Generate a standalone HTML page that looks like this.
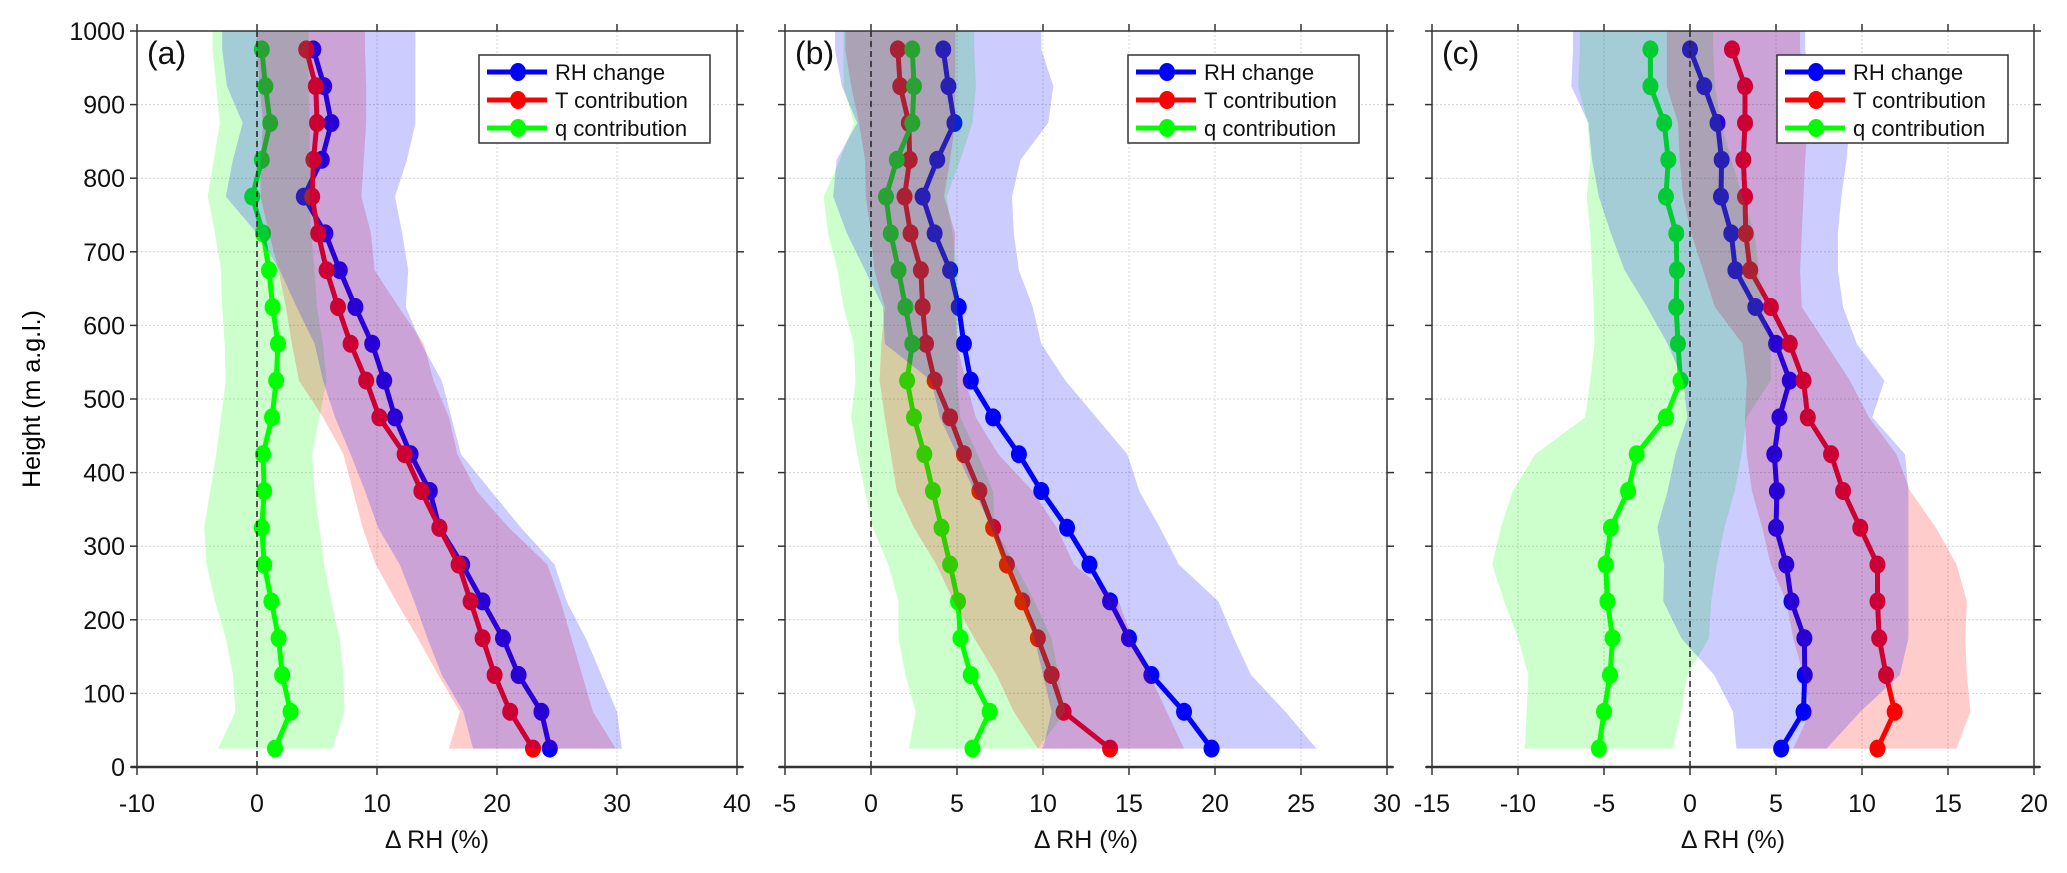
<!DOCTYPE html>
<html><head><meta charset="utf-8"><style>
html,body{margin:0;padding:0;background:#fff;}
svg{display:block;font-family:"Liberation Sans",sans-serif;}
</style></head><body>
<svg id="fig" width="2067" height="873" viewBox="0 0 2067 873" xmlns="http://www.w3.org/2000/svg">
<text x="0" y="0" transform="translate(40,399) rotate(-90)" text-anchor="middle" font-size="25">Height (m a.g.l.)</text>
</svg>
<script>
const heights = [25,75,125,175,225,275,325,375,425,475,525,575,625,675,725,775,825,875,925,975];
const yTicks = [0,100,200,300,400,500,600,700,800,900,1000];
const seriesNames = ["RH change","T contribution","q contribution"];
// Panel (a)
const blueA = [24.4,23.7,21.8,20.5,18.8,17.1,15.2,14.4,12.8,11.5,10.6,9.6,8.2,6.9,5.7,3.9,5.4,6.2,5.6,4.7];
const redA = [23.0,21.1,19.8,18.8,17.8,16.8,15.2,13.7,12.3,10.2,9.1,7.8,6.75,5.8,5.1,4.6,4.7,5.0,4.9,4.1];
const greenA = [1.5,2.8,2.1,1.8,1.2,0.6,0.4,0.6,0.5,1.25,1.6,1.75,1.3,1.0,0.5,-0.4,0.4,1.1,0.7,0.4];
const gLoA = [-3.25,-1.8,-2.0,-2.6,-3.5,-4.2,-4.4,-3.9,-3.4,-3.0,-2.6,-2.7,-2.9,-3.0,-3.5,-4.1,-3.6,-3.1,-3.4,-3.7];
const gHiA = [6.3,7.3,7.2,6.9,6.2,5.6,5.2,4.8,4.6,5.2,5.8,5.5,5.0,4.8,4.5,4.4,4.4,4.4,4.3,4.3];
const rLoA = [16,16.9,15.1,13.4,11.6,9.9,8.8,8.0,7.2,5.5,3.5,2.9,2.4,1.8,1.0,0.3,0.3,0.5,0.2,0];
const rHiA = [29.9,28,27.1,26.2,25.3,24.2,21,18.3,16.7,16,14.7,13.9,11.8,9.8,9.5,8.7,8.9,9.1,9.1,9.0];
const bLoA = [18,17.2,15.4,14.2,13.1,11.9,10.1,9.0,7.8,6.5,5.5,4.8,3.3,1.9,0,-2.6,-2.0,-1.2,-2.5,-2.9];
const bHiA = [30.4,30,28.7,27.4,25.8,24.8,22,19.5,17.0,16.2,15.4,13.7,12.4,12.6,12.1,11.5,12.5,13.2,13.2,13.2];
const xTicksA = [-10,0,10,20,30,40];
// Panel (b)
const blueB = [19.8,18.2,16.3,15.0,13.9,12.7,11.4,9.9,8.6,7.1,5.8,5.4,5.1,4.6,3.7,3.0,3.85,4.85,4.5,4.2];
const redB = [13.9,11.2,10.5,9.7,8.8,7.9,7.1,6.3,5.4,4.6,3.7,3.2,3.0,2.9,2.3,1.95,2.25,2.2,1.7,1.56];
const greenB = [5.9,6.9,5.8,5.2,5.06,4.6,4.1,3.6,3.1,2.5,2.1,2.4,2.0,1.6,1.15,0.87,1.5,2.4,2.5,2.4];
const gLoB = [2.2,2.6,2.0,1.6,1.6,1.0,0.1,-0.35,-0.8,-1.15,-0.9,-1.0,-1.6,-1.95,-2.5,-2.75,-1.8,-1.0,-1.6,-1.6];
const gHiB = [9.7,11.3,10.9,10.5,9.5,8.4,7.2,7.1,6.2,5.2,5.0,5.0,5.0,5.0,4.75,4.4,5.2,5.9,6.1,6.0];
const rLoB = [9.7,8.3,7.3,6.0,4.8,3.8,2.5,1.5,1.15,0.8,0.5,0.6,0.8,0.2,0,-0.3,-0.35,-0.7,-1.15,-1.5];
const rHiB = [18.2,17.2,16.2,15.2,14.4,11.8,10.8,9.4,7.4,6.1,5.5,5.0,4.9,4.8,4.9,4.25,4.6,4.9,4.9,4.9];
const bLoB = [10,10.5,10,9.5,9,8,7,6,5,4,3.5,0.8,0.7,-0.35,-1.4,-2.2,-2.0,-0.8,-1.7,-2.1];
const bHiB = [25.9,24.1,22.1,21.1,20.2,17.9,16.8,15.6,14.9,13.1,11.3,9.9,9.4,8.6,8.3,8.2,8.7,10.3,10.6,9.9];
const xTicksB = [-5,0,5,10,15,20,25,30];
// Panel (c)
const blueC = [5.3,6.6,6.67,6.65,5.9,5.6,5.0,5.05,4.9,5.2,5.8,5.0,3.8,2.64,2.4,1.8,1.84,1.6,0.83,0];
const redC = [10.9,11.9,11.4,11.0,10.9,10.9,9.9,8.9,8.2,6.85,6.6,5.8,4.7,3.5,3.24,3.2,3.1,3.2,3.2,2.44];
const greenC = [-5.3,-5.0,-4.65,-4.5,-4.8,-4.9,-4.6,-3.6,-3.1,-1.4,-0.55,-0.7,-0.8,-0.76,-0.8,-1.4,-1.26,-1.5,-2.3,-2.3];
const gLoC = [-9.6,-9.5,-9.4,-10.0,-10.8,-11.5,-11.0,-10.3,-9.0,-6.1,-5.8,-5.55,-5.6,-5.7,-5.8,-6.0,-5.8,-5.95,-6.5,-6.4];
const gHiC = [-1.0,-0.5,-0.15,1.1,1.24,1.56,2.0,2.6,3.0,3.3,4.7,4.7,4.2,4.0,3.75,3.05,2.4,1.8,1.45,1.35];
const rLoC = [6.0,7.0,6.6,6.0,5.6,4.7,4.2,3.6,3.3,3.2,3.3,3.05,1.45,0.76,0.07,-0.4,-0.6,-0.7,-1.35,-1.35];
const rHiC = [15.5,16.3,16.1,16.0,16.1,15.5,14.3,12.8,12.0,10.4,9.3,7.9,6.5,6.4,6.5,6.6,6.7,6.85,6.7,6.4];
const bLoC = [2.7,2.5,1.4,-0.5,-1.55,-1.5,-1.9,-1.3,-0.85,-0.15,-0.4,-1.3,-2.5,-3.8,-4.6,-5.3,-5.7,-5.9,-6.9,-6.8];
const bHiC = [7.95,9.9,12.2,12.7,12.7,12.7,12.7,12.7,12.5,10.6,11.3,9.7,8.9,8.6,8.6,8.8,9.1,9.3,7.0,6.7];
const xTicksC = [-15,-10,-5,0,5,10,15,20];

const NS = "http://www.w3.org/2000/svg";
const svg = document.getElementById("fig");
const TOP = 31, BOT = 767;
function yS(h){ return BOT - (h/1000)*(BOT-TOP); }
function mk(tag, attrs, parent){
  const e = document.createElementNS(NS, tag);
  for (const k in attrs) e.setAttribute(k, attrs[k]);
  (parent||svg).appendChild(e);
  return e;
}
function drawPanel(p){
  const xS = v => p.x0 + (v - p.xmin) / (p.xmax - p.xmin) * (p.x1 - p.x0);
  const g = mk("g", {});
  
  
  // grid
  p.xticks.forEach(t => {
    const gl = mk("line", {x1:xS(t), x2:xS(t), y1:TOP, y2:BOT, stroke:"#d4d4d4", "stroke-width":1, "stroke-dasharray":"2,2"}, g);
    
    
  });
  yTicks.forEach(t => {
    const gl = mk("line", {x1:p.x0, x2:p.x1, y1:yS(t), y2:yS(t), stroke:"#d4d4d4", "stroke-width":1, "stroke-dasharray":"2,2"}, g);
    
    
  });
  // lines + markers
  const series = [[p.blue,"#0000ff","rh-change"],[p.red,"#ff0000","t-contribution"],[p.green,"#00ff00","q-contribution"]];
  series.forEach(s => {
    const pts = s[0].map((v,i) => xS(v).toFixed(1)+","+yS(heights[i]).toFixed(1)).join(" ");
    const pl = mk("polyline", {points:pts, fill:"none", stroke:s[1], "stroke-width":5, "stroke-linejoin":"round"}, g);
    
    
    s[0].forEach((v,i) => {
      const c = mk("ellipse", {cx:xS(v), cy:yS(heights[i]), rx:8, ry:9, fill:s[1]}, g);
      
      
    });
  });
  // bands on top
  const bands = [[p.gLo,p.gHi,"rgba(0,255,0,0.2)","q-range-band"],[p.rLo,p.rHi,"rgba(255,0,0,0.2)","t-range-band"],[p.bLo,p.bHi,"rgba(0,0,255,0.2)","rh-range-band"]];
  bands.forEach(b => {
    const a = b[0].map((v,i) => xS(v).toFixed(1)+","+yS(heights[i]).toFixed(1));
    const c = b[1].map((v,i) => xS(v).toFixed(1)+","+yS(heights[i]).toFixed(1)).reverse();
    const top = yS(1000);
    const first = a[a.length-1].split(","), last = c[0].split(",");
    const pts = a.concat([first[0]+","+top, last[0]+","+top]).concat(c).join(" ");
    const pg = mk("polygon", {points:pts, fill:b[2], stroke:"none"}, g);
    
    
  });
  // zero line
  const z = mk("line", {x1:xS(0), x2:xS(0), y1:TOP, y2:BOT, stroke:"#222", "stroke-width":1.5, "stroke-dasharray":"6,4"}, g);
  
  
  // frame
  const fr = mk("rect", {x:p.x0, y:TOP, width:p.x1-p.x0, height:BOT-TOP, fill:"none", stroke:"#333", "stroke-width":1.5}, g);
  
  
  mk("line", {x1:p.x0-6, x2:p.x1+6, y1:BOT, y2:BOT, stroke:"#333", "stroke-width":2.5}, g);
  // ticks
  p.xticks.forEach(t => {
    mk("line", {x1:xS(t), x2:xS(t), y1:BOT, y2:BOT+8, stroke:"#333", "stroke-width":1.5}, g);
    mk("line", {x1:xS(t), x2:xS(t), y1:TOP, y2:TOP-7, stroke:"#333", "stroke-width":1.5}, g);
    const tx = mk("text", {x:xS(t), y:812, "text-anchor":"middle", "font-size":25, fill:"#111"}, g);
    tx.textContent = t;
    
    
  });
  yTicks.forEach(t => {
    mk("line", {x1:p.x0-7, x2:p.x0, y1:yS(t), y2:yS(t), stroke:"#333", "stroke-width":1.5}, g);
    mk("line", {x1:p.x1, x2:p.x1+7, y1:yS(t), y2:yS(t), stroke:"#333", "stroke-width":1.5}, g);
    if (p.ylabels){
      const tx = mk("text", {x:p.x0-12, y:yS(t)+9, "text-anchor":"end", "font-size":25, fill:"#111"}, g);
      tx.textContent = t;
      
      
    }
  });
  const xt = mk("text", {x:(p.x0+p.x1)/2, y:848, "text-anchor":"middle", "font-size":25, fill:"#111"}, g);
  xt.textContent = "\u0394 RH (%)";
  
  
  const pl = mk("text", {x:p.x0+10, y:64, "font-size":32, fill:"#111"}, g);
  pl.textContent = "(" + p.id + ")";
  
  
  // legend
  const lg = mk("g", {}, g);
  
  
  mk("rect", {x:p.lx, y:55, width:231, height:88, fill:"#fff", stroke:"#333", "stroke-width":1.5}, lg);
  const cols = ["#0000ff","#ff0000","#00ff00"];
  seriesNames.forEach((n,i) => {
    const y = 72 + i*28;
    mk("line", {x1:p.lx+8, x2:p.lx+68, y1:y, y2:y, stroke:cols[i], "stroke-width":5}, lg);
    mk("ellipse", {cx:p.lx+39, cy:y, rx:8, ry:9, fill:cols[i]}, lg);
    const t = mk("text", {x:p.lx+76, y:y+8, "font-size":22, fill:"#111"}, lg);
    t.textContent = n;
    
    
  });
}
drawPanel({id:"a", x0:137, x1:737, xmin:-10, xmax:40, xticks:xTicksA, ylabels:true, lx:479,
  blue:blueA, red:redA, green:greenA, gLo:gLoA, gHi:gHiA, rLo:rLoA, rHi:rHiA, bLo:bLoA, bHi:bHiA});
drawPanel({id:"b", x0:785, x1:1387, xmin:-5, xmax:30, xticks:xTicksB, ylabels:false, lx:1128,
  blue:blueB, red:redB, green:greenB, gLo:gLoB, gHi:gHiB, rLo:rLoB, rHi:rHiB, bLo:bLoB, bHi:bHiB});
drawPanel({id:"c", x0:1432, x1:2034, xmin:-15, xmax:20, xticks:xTicksC, ylabels:false, lx:1777,
  blue:blueC, red:redC, green:greenC, gLo:gLoC, gHi:gHiC, rLo:rLoC, rHi:rHiC, bLo:bLoC, bHi:bHiC});
</script>
</body></html>
